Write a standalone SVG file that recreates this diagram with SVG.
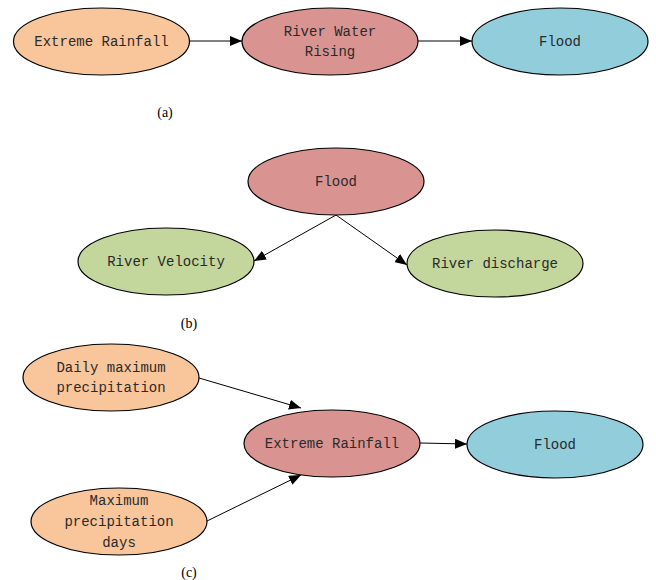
<svg xmlns="http://www.w3.org/2000/svg" width="656" height="580" viewBox="0 0 656 580">
  <style>
    .node ellipse { stroke: #000; stroke-width: 1.2; }
    .orange { fill: #F9C59A; }
    .red { fill: #D99492; }
    .blue { fill: #92CDDC; }
    .green { fill: #C3D69B; }
    .node text { font-family: "Liberation Mono", "DejaVu Sans Mono", monospace; font-size: 14px; fill: #2a2a2a; text-anchor: middle; }
    .cap { font-family: "Liberation Serif", "Times New Roman", serif; font-size: 14px; fill: #000; text-anchor: middle; }
    .edge { stroke: #000; stroke-width: 1; fill: none; marker-end: url(#arrow); }
  </style>
  <defs>
    <marker id="arrow" markerUnits="userSpaceOnUse" markerWidth="12" markerHeight="10" refX="12" refY="5" orient="auto">
      <path d="M0,0 L12,5 L0,10 Z" fill="#000"/>
    </marker>
  </defs>
  <rect width="656" height="580" fill="#fff"/>

  <!-- connectors -->
  <g id="connectors">
    <line class="edge" x1="190" y1="41" x2="242" y2="41"/>
    <line class="edge" x1="418" y1="41" x2="472" y2="41"/>
    <line class="edge" x1="336" y1="215" x2="254" y2="261"/>
    <line class="edge" x1="336" y1="215" x2="407" y2="265"/>
    <line class="edge" x1="199" y1="378" x2="301" y2="408"/>
    <line class="edge" x1="207" y1="521" x2="301" y2="475"/>
    <line class="edge" x1="420" y1="443" x2="467" y2="444"/>
  </g>

  <!-- (a) -->
  <g id="a-extreme-rainfall" class="node">
    <ellipse class="orange" cx="101.5" cy="41.5" rx="88" ry="33.5"/>
    <text x="101.5" y="46">Extreme Rainfall</text>
  </g>
  <g id="a-river-water-rising" class="node">
    <ellipse class="red" cx="330" cy="41.5" rx="88" ry="33.5"/>
    <text x="330" y="36">River Water</text>
    <text x="330" y="56">Rising</text>
  </g>
  <g id="a-flood" class="node">
    <ellipse class="blue" cx="560" cy="41.5" rx="88" ry="33.5"/>
    <text x="560" y="46">Flood</text>
  </g>
  <text class="cap" x="165" y="117">(a)</text>

  <!-- (b) -->
  <g id="b-flood" class="node">
    <ellipse class="red" cx="336" cy="181.5" rx="88" ry="33.5"/>
    <text x="336" y="186">Flood</text>
  </g>
  <g id="b-river-velocity" class="node">
    <ellipse class="green" cx="166" cy="261.5" rx="88" ry="33.5"/>
    <text x="166" y="266">River Velocity</text>
  </g>
  <g id="b-river-discharge" class="node">
    <ellipse class="green" cx="495" cy="263.5" rx="88" ry="33.5"/>
    <text x="495" y="268">River discharge</text>
  </g>
  <text class="cap" x="189" y="328">(b)</text>

  <!-- (c) -->
  <g id="c-daily-max-precip" class="node">
    <ellipse class="orange" cx="111" cy="377.5" rx="88" ry="33.5"/>
    <text x="111" y="372">Daily maximum</text>
    <text x="111" y="392">precipitation</text>
  </g>
  <g id="c-max-precip-days" class="node">
    <ellipse class="orange" cx="119" cy="521.5" rx="88" ry="33.5"/>
    <text x="119" y="505">Maximum</text>
    <text x="119" y="526">precipitation</text>
    <text x="119" y="547">days</text>
  </g>
  <g id="c-extreme-rainfall" class="node">
    <ellipse class="red" cx="332" cy="443.5" rx="88" ry="33.5"/>
    <text x="332" y="448">Extreme Rainfall</text>
  </g>
  <g id="c-flood" class="node">
    <ellipse class="blue" cx="555" cy="444.5" rx="88" ry="33.5"/>
    <text x="555" y="449">Flood</text>
  </g>
  <text class="cap" x="189" y="577">(c)</text>
</svg>
